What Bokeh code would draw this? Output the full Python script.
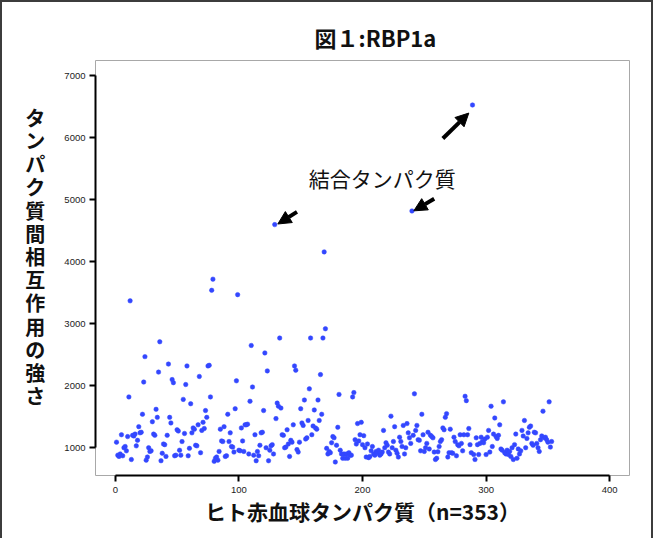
from bokeh.plotting import figure
from bokeh.models import Range1d, FixedTicker, Arrow, NormalHead, ColumnDataSource
from bokeh.core.properties import value
from bokeh.embed import file_html
from bokeh.resources import INLINE

# ---- data -------------------------------------------------------------
protein_index = list(range(1, 354))
interaction_strength = [
    1090, 880, 860, 900, 1210, 870, 1000, 1020, 950, 1180,
    1820, 3370, 810, 1200, 1190, 1220, 1030, 1120, 1340, 1240,
    1250, 1540, 2060, 2470, 800, 850, 1000, 940, 950, 1420,
    1220, 1200, 1620, 1490, 2220, 2710, 790, 910, 1060, 1050,
    860, 1200, 2350, 1490, 1400, 2100, 2050, 870, 880, 1290,
    1270, 960, 880, 1100, 1780, 1230, 2020, 2320, 870, 990,
    1710, 1240, 1320, 1300, 1040, 1030, 1370, 2150, 920, 1280,
    1410, 1310, 1600, 1490, 2320, 2330, 1820, 3540, 3720, 780,
    830, 850, 800, 940, 1300, 1110, 1100, 1340, 860, 870,
    1540, 1100, 1240, 1020, 1010, 930, 1630, 2080, 3470, 960,
    950, 1320, 1110, 940, 1370, 1370, 1380, 900, 1750, 2650,
    1980, 880, 1210, 790, 940, 870, 1040, 1240, 1250, 1600,
    2530, 1000, 2240, 790, 960, 1030, 1050, 900, 4600, 1470,
    1720, 1670, 2770, 1640, 1210, 1200, 1000, 1010, 1290, 1060,
    860, 1120, 1090, 1370, 2320, 2250, 970, 930, 1090, 1630,
    1400, 1360, 1770, 1140, 1160, 1440, 1950, 2770, 1210, 1350,
    1610, 1320, 1300, 1770, 1440, 2180, 1540, 2770, 4160, 2920,
    990, 900, 940, 920, 1080, 1180, 1160, 770, 1040, 1330,
    1860, 960, 900, 830, 900, 830, 900, 830, 920, 880,
    880, 1820, 1890, 1130, 1060, 1390, 1110, 1210, 1410, 1050,
    1195, 1000, 850, 1060, 840, 860, 950, 1020, 900, 880,
    940, 920, 960, 880, 900, 930, 1280, 1000, 1080, 1040,
    930, 900, 1510, 1000, 1100, 1340, 960, 910, 850, 1170,
    1100, 1020, 1360, 900, 1000, 1390, 1240, 1160, 1070, 4820,
    1200, 1870, 1280, 1360, 1130, 1120, 950, 1540, 1210, 940,
    1000, 1070, 1250, 980, 1200, 1180, 1160, 930, 810, 830,
    935, 1020, 1100, 1130, 1320, 1290, 1490, 1550, 850, 920,
    1300, 920, 910, 1170, 1100, 870, 1050, 1030, 1210, 1070,
    950, 1210, 1830, 1760, 1210, 1310, 1050, 920, 6530, 890,
    810, 1160, 1050, 890, 1070, 1170, 1100, 1080, 1140, 890,
    1170, 1280, 930, 1670, 1020, 1220, 1480, 1180, 1150, 1200,
    1370, 980, 960, 1740, 920, 900, 960, 890, 940, 860,
    1000, 810, 1050, 1220, 830, 980, 900, 950, 1280, 1190,
    1440, 1000, 1150, 1240, 1330, 1350, 1070, 1040, 1250, 1240,
    1070, 1000, 940, 1130, 1190, 1590, 1160, 1170, 1130, 1090,
    1740, 1010, 1100,
]
x_ticks = [0, 100, 200, 300, 400]
y_ticks = [1000, 2000, 3000, 4000, 5000, 6000, 7000]

title_text = "図１:RBP1a"
x_label = "ヒト赤血球タンパク質（n=353）"
y_label = "タンパク質間相互作用の強さ"

note_text = "結合タンパク質"
note_x = [216]
note_y = [5360]
arrow_x0 = [265, 147, 258]
arrow_y0 = [5990, 4805, 5016]
arrow_x1 = [286, 131.5, 241.5]
arrow_y1 = [6400, 4610, 4822]

# ---- figure -----------------------------------------------------------
p = figure(width=649, height=536,
           x_range=Range1d(-16, 416), y_range=Range1d(552, 7248),
           output_backend="svg", toolbar_location=None,
           min_border_left=93, min_border_right=26,
           min_border_top=58, min_border_bottom=65)
# page frame: open at the bottom, as in the original picture
p.styles = {"box-sizing": "content-box",
            "border-top": "2px solid #3c3c3c",
            "border-left": "2px solid #3c3c3c",
            "border-right": "2px solid #3c3c3c"}
p.background_fill_color = "white"
p.border_fill_color = "white"
p.outline_line_color = "#a8a8a8"
p.outline_line_width = 1
p.xgrid.visible = False
p.ygrid.visible = False

p.title.text = title_text
p.title.align = "left"
p.title.offset = 219
p.title.text_font = "Noto Sans CJK JP"
p.title.text_font_size = "22px"
p.title.text_font_style = "bold"
p.title.text_color = "#111111"
p.title.standoff = 16

for ax in (p.xaxis[0], p.yaxis[0]):
    ax.axis_line_width = 2
    ax.axis_line_color = "black"
    ax.major_tick_line_width = 2
    ax.major_tick_line_color = "black"
    ax.major_tick_out = 6
    ax.major_tick_in = 0
    ax.minor_tick_line_color = None
    ax.major_label_text_font = "Liberation Sans"
    ax.major_label_text_font_size = "9.5px"
    ax.major_label_text_color = "#222222"

xa = p.xaxis[0]
xa.ticker = FixedTicker(ticks=x_ticks)
xa.bounds = (x_ticks[0], x_ticks[-1])
xa.major_label_standoff = 5
xa.axis_label = x_label
xa.axis_label_text_font = "Noto Sans CJK JP"
xa.axis_label_text_font_size = "21px"
xa.axis_label_text_font_style = "bold"
xa.axis_label_text_color = "#111111"
xa.axis_label_standoff = 0

ya = p.yaxis[0]
ya.ticker = FixedTicker(ticks=y_ticks)
ya.bounds = (y_ticks[0], y_ticks[-1])
ya.major_label_orientation = "horizontal"
ya.major_label_standoff = 4
# one character per line, stacked upright; trailing empty line lifts the block
ya.axis_label = "\n".join(y_label) + "\n"
ya.axis_label_orientation = "horizontal"
ya.axis_label_text_font = "Noto Sans CJK JP"
ya.axis_label_text_font_size = "20px"
ya.axis_label_text_font_style = "bold"
ya.axis_label_text_line_height = 0.8
ya.axis_label_text_color = "#111111"
ya.axis_label_standoff = 16

src = ColumnDataSource(dict(x=protein_index, y=interaction_strength))
p.scatter("x", "y", source=src, size=4.5, fill_color="#3347ff",
          line_color="#3347ff", line_width=0.5)

p.text(x=note_x, y=note_y, text=[note_text],
       text_font=value("Noto Sans CJK JP"), text_font_size="21px",
       text_align="center", text_baseline="middle", text_color="#111111")

for xs, ys, xe, ye in zip(arrow_x0, arrow_y0, arrow_x1, arrow_y1):
    p.add_layout(Arrow(x_start=xs, y_start=ys, x_end=xe, y_end=ye,
                       line_width=4, line_color="black",
                       end=NormalHead(size=13, fill_color="black",
                                      line_color="black", line_width=1)))

open("out.html", "w").write(file_html(p, INLINE))
